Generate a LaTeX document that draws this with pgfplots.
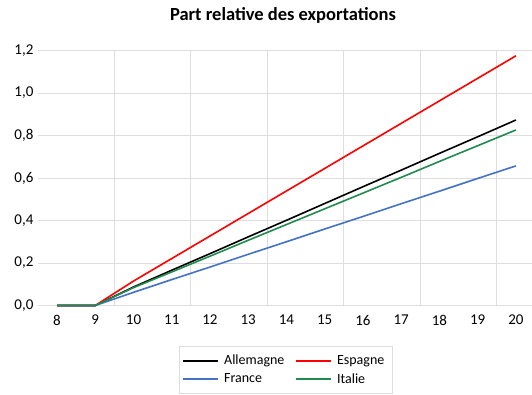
\documentclass[border=0pt]{standalone}
\usepackage{pgfplots}
\pgfplotsset{compat=1.18}
\usepackage{fontspec}
\setmainfont{Carlito}
\definecolor{gridgray}{RGB}{222,222,222}
\definecolor{esp}{RGB}{255,0,0}
\definecolor{fra}{RGB}{68,114,196}
\definecolor{ita}{RGB}{33,138,78}
\begin{document}
\begin{tikzpicture}
\begin{axis}[
  scale only axis,
  width=494.1pt, height=255pt,
  xmin=7.5, xmax=20.42,
  ymin=0, ymax=1.2,
  xtick={8,...,20},
  ytick={0,0.2,...,1.2},
  minor xtick={9.5,11.5,...,19.5},
  xminorgrids=true, ymajorgrids=true,
  grid style={gridgray, line width=0.8pt},
  minor grid style={gridgray, line width=0.8pt},
  major tick length=0pt, minor tick length=0pt,
  axis line style={draw=none},
  /pgf/number format/assume math mode=true,
  /pgf/number format/.cd, use comma, fixed, fixed zerofill, precision=1, /pgfplots/.cd,
  xticklabel style={/pgf/number format/precision=0, /pgf/number format/fixed zerofill=false, font=\fontsize{15}{18}\selectfont, yshift=-6pt},
  yticklabel style={font=\fontsize{15}{18}\selectfont, xshift=-1pt},
  legend columns=2,
  legend style={at={(axis description cs:0.502,-0.159)}, anchor=north,
    draw=gridgray, line width=0.8pt, font=\fontsize{14}{17}\selectfont,
    inner xsep=3pt, inner ysep=5.7pt, row sep=1pt,
    nodes={inner xsep=5.5pt, inner ysep=3pt},
    /tikz/every odd column/.append style={column sep=0pt},
    /tikz/every even column/.append style={column sep=5pt}},
  legend image code/.code={\draw[#1, line width=1.6pt] (0pt,0pt) -- (35pt,0pt);},
  legend cell align=left,
  clip=false,
]
\addplot[black, line width=1.6pt] coordinates {(8,0) (9,0) (10,0.087) (11,0.166) (12,0.244) (13,0.323) (14,0.401) (15,0.480) (16,0.559) (17,0.637) (18,0.716) (19,0.794) (20,0.873)};
\addlegendentry{Allemagne}
\addplot[esp, line width=1.6pt] coordinates {(8,0) (9,0) (10,0.115) (11,0.221) (12,0.327) (13,0.433) (14,0.539) (15,0.645) (16,0.751) (17,0.857) (18,0.963) (19,1.069) (20,1.175)};
\addlegendentry{Espagne}
\addplot[fra, line width=1.6pt] coordinates {(8,0) (9,0) (10,0.062) (11,0.122) (12,0.181) (13,0.241) (14,0.300) (15,0.360) (16,0.419) (17,0.479) (18,0.538) (19,0.598) (20,0.657)};
\addlegendentry{France}
\addplot[ita, line width=1.6pt] coordinates {(8,0) (9,0) (10,0.084) (11,0.158) (12,0.232) (13,0.307) (14,0.381) (15,0.455) (16,0.529) (17,0.603) (18,0.678) (19,0.752) (20,0.826)};
\addlegendentry{Italie}
\end{axis}
\node[font=\fontsize{18.5}{22}\selectfont\bfseries] at (245.1pt,290.5pt) {Part relative des exportations};
\pgfresetboundingbox
\path (-37.9pt,-88.5pt) rectangle (494.1pt,305.5pt);
\end{tikzpicture}
\end{document}
